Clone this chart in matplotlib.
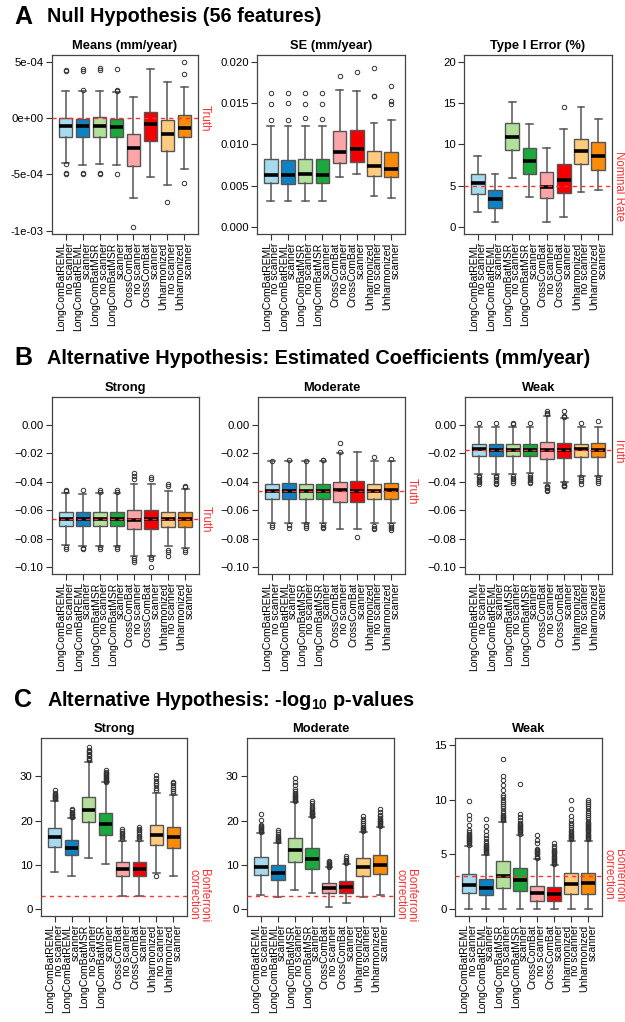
import matplotlib
matplotlib.use("Agg")
import matplotlib.pyplot as plt

plt.rcParams['font.family'] = ['Liberation Sans', 'DejaVu Sans']
plt.rcParams['mathtext.fontset'] = 'custom'
plt.rcParams['mathtext.rm'] = 'Liberation Sans'
plt.rcParams['mathtext.bf'] = 'Liberation Sans:bold'

# ---- categories / colours ----
methods = ["LongComBatREML\nno scanner", "LongComBatREML\nscanner",
           "LongComBatMSR\nno scanner", "LongComBatMSR\nscanner",
           "CrossComBat\nno scanner", "CrossComBat\nscanner",
           "Unharmonized\nno scanner", "Unharmonized\nscanner"]
box_colors = ["#A6DBEF", "#0F82C3", "#B2E09A", "#1BA83C",
              "#FBA5A8", "#F50000", "#FDCB7E", "#FA8C0A"]

# ---- A: null hypothesis ----
means_hi = [2.43e-4, 2.43e-4, 2.43e-4, 2.30e-4, 1.83e-4, 4.34e-4, 3.17e-4, 2.78e-4]
means_q3 = [0.0, -0.05e-4, 0.05e-4, -0.05e-4, -1.4e-4, 0.57e-4, -0.15e-4, 0.24e-4]
means_med = [-0.72e-4, -0.75e-4, -0.72e-4, -0.8e-4, -2.7e-4, -0.54e-4, -1.4e-4, -0.9e-4]
means_q1 = [-1.65e-4, -1.7e-4, -1.65e-4, -1.7e-4, -4.28e-4, -2.0e-4, -2.96e-4, -1.7e-4]
means_lo = [-3.95e-4, -4.16e-4, -4.1e-4, -4.15e-4, -7.1e-4, -5.2e-4, -5.93e-4, -4.55e-4]
means_fliers = [[4.3e-4, 4.15e-4, -4.1e-4, -4.9e-4, -5.0e-4],
                [4.35e-4, 4.15e-4, 2.5e-4, -4.9e-4, -5.0e-4],
                [4.45e-4, 4.25e-4, -4.9e-4, -4.95e-4],
                [4.35e-4, 2.5e-4, 2.4e-4, -4.95e-4],
                [-9.7e-4], [], [-7.45e-4],
                [5.0e-4, 3.95e-4, -5.75e-4]]

se_hi = [0.0122, 0.0122, 0.0122, 0.0122, 0.0166, 0.0165, 0.0126, 0.0129]
se_q3 = [0.0082, 0.0081, 0.0082, 0.0082, 0.0116, 0.0118, 0.0092, 0.0091]
se_med = [0.00633, 0.0063, 0.0064, 0.0063, 0.0091, 0.0094, 0.0074, 0.0071]
se_q1 = [0.0053, 0.0052, 0.0054, 0.0053, 0.0078, 0.0079, 0.0062, 0.0061]
se_lo = [0.0032, 0.0032, 0.0032, 0.0032, 0.0061, 0.0064, 0.0038, 0.0035]
se_fliers = [[0.01625, 0.0149, 0.0130], [0.0162, 0.0150, 0.0129],
             [0.0162, 0.0149, 0.0132], [0.0162, 0.0149, 0.0131],
             [0.0183], [0.0188], [0.0192, 0.0159, 0.0158],
             [0.0171, 0.0153, 0.0149]]

t1_hi = [8.6, 6.5, 15.1, 12.5, 9.6, 11.9, 14.5, 13.1]
t1_q3 = [6.4, 4.5, 12.6, 9.6, 6.7, 7.6, 10.65, 10.3]
t1_med = [5.3, 3.4, 10.9, 8.0, 4.9, 5.7, 9.2, 8.6]
t1_q1 = [4.0, 2.3, 9.35, 6.5, 3.6, 4.1, 7.6, 6.95]
t1_lo = [1.8, 0.65, 6.0, 3.7, 0.6, 1.3, 4.3, 4.5]
t1_fliers = [[], [], [], [], [], [14.5], [], []]

# ---- B: estimated coefficients ----
bs_hi = [-0.0479, -0.0488, -0.0479, -0.0479, -0.0414, -0.0414, -0.0467, -0.0451]
bs_q3 = [-0.0614, -0.0614, -0.0614, -0.0614, -0.0600, -0.0596, -0.0614, -0.0610]
bs_med = [-0.0659, -0.0659, -0.0659, -0.0659, -0.0666, -0.0659, -0.0661, -0.0659]
bs_q1 = [-0.0706, -0.0706, -0.0706, -0.0706, -0.0731, -0.0729, -0.0713, -0.0713]
bs_lo = [-0.0846, -0.0848, -0.0848, -0.0848, -0.0918, -0.0918, -0.0853, -0.0865]
bs_fliers = [[-0.046, -0.0465, -0.0858, -0.0872],
             [-0.0456, -0.0862, -0.0872],
             [-0.0455, -0.047, -0.086, -0.087],
             [-0.0455, -0.047, -0.086, -0.087],
             [-0.034, -0.0357, -0.0376, -0.0935, -0.0951, -0.0965],
             [-0.0362, -0.0381, -0.0925, -0.094, -0.100],
             [-0.0414, -0.0428, -0.0876, -0.0895, -0.0918],
             [-0.0428, -0.0437, -0.088, -0.0895]]

bm_hi = [-0.0254, -0.0254, -0.0254, -0.0254, -0.0198, -0.0191, -0.0254, -0.0254]
bm_q3 = [-0.0415, -0.041, -0.0415, -0.0415, -0.0401, -0.0394, -0.0415, -0.041]
bm_med = [-0.0461, -0.0461, -0.0461, -0.0461, -0.0459, -0.0461, -0.0464, -0.0459]
bm_q1 = [-0.0518, -0.0518, -0.0518, -0.0518, -0.0538, -0.0538, -0.0522, -0.0522]
bm_lo = [-0.0685, -0.0687, -0.0685, -0.0685, -0.0730, -0.0727, -0.0688, -0.0690]
bm_fliers = [[-0.025, -0.070, -0.0716],
             [-0.0245, -0.0702, -0.072],
             [-0.025, -0.0692, -0.0708, -0.0722],
             [-0.0245, -0.0248, -0.070, -0.0716, -0.0725],
             [-0.0124, -0.0191],
             [-0.0783],
             [-0.0224, -0.0706, -0.072, -0.073],
             [-0.0238, -0.070, -0.0716, -0.0725, -0.0735]]

bw_hi = [-0.0012, -0.0016, -0.0016, -0.0016, 0.0063, 0.0047, -0.0016, -0.0012]
bw_q3 = [-0.0131, -0.0131, -0.0131, -0.0136, -0.0117, -0.0124, -0.0131, -0.0129]
bw_med = [-0.0171, -0.0173, -0.0173, -0.0173, -0.0175, -0.0175, -0.0171, -0.0173]
bw_q1 = [-0.0215, -0.0215, -0.0215, -0.0215, -0.0236, -0.0229, -0.0222, -0.0222]
bw_lo = [-0.0343, -0.0343, -0.0343, -0.0339, -0.0409, -0.0397, -0.0357, -0.0357]
bw_fliers = [[0.0012, -0.0357, -0.0368, -0.0378, -0.0390, -0.0402, -0.0414],
             [0.0012, -0.0355, -0.0365, -0.0378, -0.0392, -0.0405, -0.0414],
             [0.0012, 0.0007, -0.0357, -0.0370, -0.0382, -0.0395, -0.0408],
             [0.0012, -0.0352, -0.0363, -0.0375, -0.0388, -0.0400, -0.0410],
             [0.0077, 0.0087, 0.0098, -0.0425, -0.0435, -0.0444, -0.0455, -0.0463],
             [0.0056, 0.0063, 0.0098, -0.0410, -0.0418, -0.0426, -0.0432],
             [0.0012, -0.0368, -0.0380, -0.0395, -0.0414],
             [0.0026, -0.0368, -0.0380, -0.0392, -0.0410]]

# ---- C: -log10 p-values ----
cs_hi = [24.5, 20.5, 33.2, 28.6, 15.5, 15.5, 26.3, 25.8]
cs_q3 = [18.35, 15.6, 25.3, 21.7, 10.7, 10.7, 19.0, 18.6]
cs_med = [16.2, 13.8, 22.4, 19.3, 9.1, 9.1, 16.8, 16.2]
cs_q1 = [14.1, 12.2, 19.7, 16.85, 7.5, 7.5, 14.5, 13.9]
cs_lo = [8.5, 7.5, 11.65, 10.15, 3.0, 3.0, 8.1, 7.5]
cs_fliers = [[24.8, 25.0, 25.2, 25.4, 25.6, 25.8, 26.0, 26.2, 26.8],
             [20.7, 20.9, 21.1, 21.3, 21.5, 21.7, 22.0, 22.3, 22.7],
             [33.6, 33.9, 34.2, 34.5, 34.8, 35.1, 35.4, 35.7, 36.0, 36.5],
             [28.8, 29.0, 29.2, 29.4, 29.6, 29.8, 30.0, 30.2, 30.4, 30.7, 31.0, 31.3],
             [15.9, 16.2, 16.5, 16.9, 17.3, 17.7, 18.0],
             [15.9, 16.2, 16.6, 17.0, 17.4, 17.8, 18.2, 18.6],
             [26.9, 27.4, 27.9, 28.4, 28.9, 29.5, 30.3, 7.5],
             [26.3, 26.7, 27.1, 27.6, 28.1, 28.5, 28.8]]

cm_hi = [17.25, 15.0, 24.2, 20.8, 9.45, 10.2, 17.4, 18.6]
cm_q3 = [11.7, 10.0, 16.05, 13.9, 6.0, 6.3, 11.5, 12.3]
cm_med = [9.6, 8.1, 13.4, 11.35, 4.7, 4.95, 9.5, 10.05]
cm_q1 = [7.7, 6.5, 10.6, 9.1, 3.6, 3.6, 7.4, 7.9]
cm_lo = [3.2, 2.8, 4.4, 3.75, 0.6, 1.35, 2.8, 3.2]
cm_fliers = [[17.5, 17.7, 17.9, 18.1, 18.3, 18.5, 18.7, 19.0, 20.1, 21.4],
             [15.3, 15.5, 15.7, 15.9, 16.1, 16.3, 16.6, 17.0, 17.4, 17.8],
             [24.5, 24.7, 24.9, 25.1, 25.3, 25.5, 25.7, 25.9, 26.2, 26.6, 27.0, 27.9, 28.8, 29.7],
             [21.0, 21.2, 21.4, 21.6, 21.8, 22.0, 22.2, 22.5, 22.8, 23.2, 24.0, 24.3],
             [9.6, 9.8, 10.0, 10.2, 10.4, 10.6, 10.8],
             [10.5, 10.7, 10.9, 11.2, 11.6, 12.0],
             [17.6, 17.8, 18.0, 18.3, 18.6, 19.0, 19.5, 20.0, 20.4, 21.0],
             [18.8, 19.0, 19.2, 19.4, 19.6, 19.8, 20.0, 20.3, 20.6, 21.0, 21.3, 22.0, 22.5]]

cw_hi = [5.79, 4.97, 7.96, 6.73, 4.57, 4.0, 6.25, 6.25]
cw_q3 = [3.2, 2.77, 4.39, 3.81, 2.16, 2.07, 3.35, 3.35]
cw_med = [2.25, 1.98, 3.05, 2.68, 1.46, 1.37, 2.31, 2.38]
cw_q1 = [1.46, 1.28, 1.95, 1.7, 0.76, 0.76, 1.4, 1.4]
cw_lo = [0.03, 0.03, 0.03, 0.03, 0.03, 0.03, 0.03, 0.03]
cw_fliers = [[5.9, 6.0, 6.1, 6.2, 6.3, 6.4, 6.5, 6.6, 6.7, 6.8, 6.9, 7.0, 7.2, 7.7, 8.2, 8.6, 9.9],
             [5.1, 5.2, 5.3, 5.4, 5.5, 5.6, 5.7, 5.8, 5.9, 6.0, 6.2, 6.5, 6.8, 7.1, 7.6, 8.26],
             [8.1, 8.2, 8.3, 8.4, 8.5, 8.6, 8.8, 9.0, 9.2, 9.4, 9.6, 9.8, 10.0, 10.2, 10.4,
              10.9, 11.3, 11.8, 12.1, 13.65],
             [6.9, 7.0, 7.1, 7.2, 7.3, 7.4, 7.5, 7.6, 7.7, 7.8, 7.9, 8.1, 8.4, 8.7, 11.4],
             [4.7, 4.8, 4.9, 5.0, 5.1, 5.2, 5.3, 5.4, 5.5, 6.0, 6.3, 6.8],
             [4.1, 4.2, 4.3, 4.4, 4.5, 4.6, 4.7, 4.8, 4.9, 5.0, 5.1, 5.2, 5.3, 5.4, 5.6, 5.8, 6.0],
             [6.4, 6.5, 6.6, 6.7, 6.8, 6.9, 7.0, 7.1, 7.3, 7.5, 7.7, 7.9, 8.1, 8.5, 9.15, 10.0],
             [6.4, 6.5, 6.6, 6.7, 6.8, 6.9, 7.0, 7.1, 7.2, 7.3, 7.4, 7.5, 7.6, 7.7, 7.8, 7.9,
              8.0, 8.2, 8.4, 8.6, 8.8, 9.0, 9.2, 9.4, 9.6, 9.8, 10.0]]

# reference lines
truth_means, nominal_rate = 0.0, 5.0
truth_strong, truth_moderate, truth_weak = -0.066, -0.0465, -0.0175
bonferroni = 3.05

W, H = 625, 1022
fig = plt.figure(figsize=(W / 100, H / 100), dpi=100)
RED = "#FF3030"
GRAY = "#555555"


def add_ax(x0, x1, y0, y1):
    return fig.add_axes([x0 / W, 1 - y1 / H, (x1 - x0) / W, (y1 - y0) / H])


def draw_panel(ax, lo, q1, med, q3, hi, fliers, ylim, ticks, ticklabels,
               title, ref, ref_label):
    stats = [dict(whislo=lo[i], q1=q1[i], med=med[i], q3=q3[i],
                  whishi=hi[i], fliers=fliers[i]) for i in range(len(med))]
    pos = list(range(1, len(med) + 1))
    b = ax.bxp(stats, positions=pos, widths=0.8, capwidths=0.4,
               patch_artist=True, showfliers=True,
               boxprops=dict(edgecolor=GRAY, linewidth=1.0),
               medianprops=dict(color="black", linewidth=2.6, solid_capstyle="butt"),
               whiskerprops=dict(color=GRAY, linewidth=1.1),
               capprops=dict(color=GRAY, linewidth=1.1),
               flierprops=dict(marker="o", markersize=3.2, markerfacecolor="none",
                               markeredgecolor="#333333", markeredgewidth=0.7))
    for patch, c in zip(b["boxes"], box_colors):
        patch.set_facecolor(c)
    if ref is not None:
        ax.axhline(ref, color=RED, lw=1.0, ls=(0, (3, 3)), zorder=5)
        ax.text(1.005, ref, ref_label, transform=ax.get_yaxis_transform(),
                rotation=270, color=RED, fontsize=8.3, ha="left", va="center",
                linespacing=0.8, clip_on=False)
    ax.set_xlim(0.2, 8.8)
    ax.set_ylim(*ylim)
    ax.set_yticks(ticks)
    ax.set_yticklabels(ticklabels, fontsize=8.2)
    ax.set_xticks(pos)
    ax.set_xticklabels(methods, rotation=90, fontsize=7.5, linespacing=0.78,
                       multialignment="right")
    ax.tick_params(length=4, width=0.8, color="#333333", pad=2)
    for s in ax.spines.values():
        s.set_color("#444444")
        s.set_linewidth(0.9)
    ax.set_title(title, fontsize=9.3, fontweight="bold", pad=4)


# Row A
ax = add_ax(52, 198, 55, 234)
draw_panel(ax, means_lo, means_q1, means_med, means_q3, means_hi, means_fliers,
           (-1.03e-3, 5.6e-4), [-1e-3, -5e-4, 0, 5e-4],
           ["-1e-03", "-5e-04", "0e+00", "5e-04"], "Means (mm/year)",
           truth_means, "Truth")
ax = add_ax(257, 405, 55, 234)
draw_panel(ax, se_lo, se_q1, se_med, se_q3, se_hi, se_fliers,
           (-0.0008, 0.0208), [0, 0.005, 0.01, 0.015, 0.02],
           ["0.000", "0.005", "0.010", "0.015", "0.020"], "SE (mm/year)",
           None, "")
ax = add_ax(464, 612, 55, 234)
draw_panel(ax, t1_lo, t1_q1, t1_med, t1_q3, t1_hi, t1_fliers,
           (-0.8, 20.8), [0, 5, 10, 15, 20], ["0", "5", "10", "15", "20"],
           "Type I Error (%)", nominal_rate, "Nominal Rate")

# Row B
b_ticks = [0, -0.02, -0.04, -0.06, -0.08, -0.10]
b_labels = ["0.00", "\u22120.02", "\u22120.04", "\u22120.06", "\u22120.08", "\u22120.10"]
ax = add_ax(52, 199, 397, 574)
draw_panel(ax, bs_lo, bs_q1, bs_med, bs_q3, bs_hi, bs_fliers, (-0.1046, 0.0196),
           b_ticks, b_labels, "Strong", truth_strong, "Truth")
ax = add_ax(258, 405, 397, 574)
draw_panel(ax, bm_lo, bm_q1, bm_med, bm_q3, bm_hi, bm_fliers, (-0.1046, 0.0196),
           b_ticks, b_labels, "Moderate", truth_moderate, "Truth")
ax = add_ax(465, 612, 397, 574)
draw_panel(ax, bw_lo, bw_q1, bw_med, bw_q3, bw_hi, bw_fliers, (-0.1046, 0.0196),
           b_ticks, b_labels, "Weak", truth_weak, "Truth")

# Row C
bonf = "Bonferroni\ncorrection"
ax = add_ax(41, 187, 738, 916)
draw_panel(ax, cs_lo, cs_q1, cs_med, cs_q3, cs_hi, cs_fliers, (-1.5, 38.6),
           [0, 10, 20, 30], ["0", "10", "20", "30"], "Strong", bonferroni, bonf)
ax = add_ax(247, 394, 738, 916)
draw_panel(ax, cm_lo, cm_q1, cm_med, cm_q3, cm_hi, cm_fliers, (-1.5, 38.6),
           [0, 10, 20, 30], ["0", "10", "20", "30"], "Moderate", bonferroni, bonf)
ax = add_ax(455, 602, 738, 916)
draw_panel(ax, cw_lo, cw_q1, cw_med, cw_q3, cw_hi, cw_fliers, (-0.6, 15.6),
           [0, 5, 10, 15], ["0", "5", "10", "15"], "Weak", bonferroni, bonf)

# section headings
def heading(letter, text, y):
    fig.text(14 / W, 1 - y / H, letter, fontsize=18, fontweight="bold", va="center")
    fig.text(47 / W, 1 - y / H, text, fontsize=14.3, fontweight="bold", va="center")


heading("A", "Null Hypothesis (56 features)", 17)
heading("B", "Alternative Hypothesis: Estimated Coefficients (mm/year)", 358)
heading("C", r"Alternative Hypothesis: -log$_{\mathbf{10}}$ p-values", 700)

fig.savefig("out.png", dpi=100)
